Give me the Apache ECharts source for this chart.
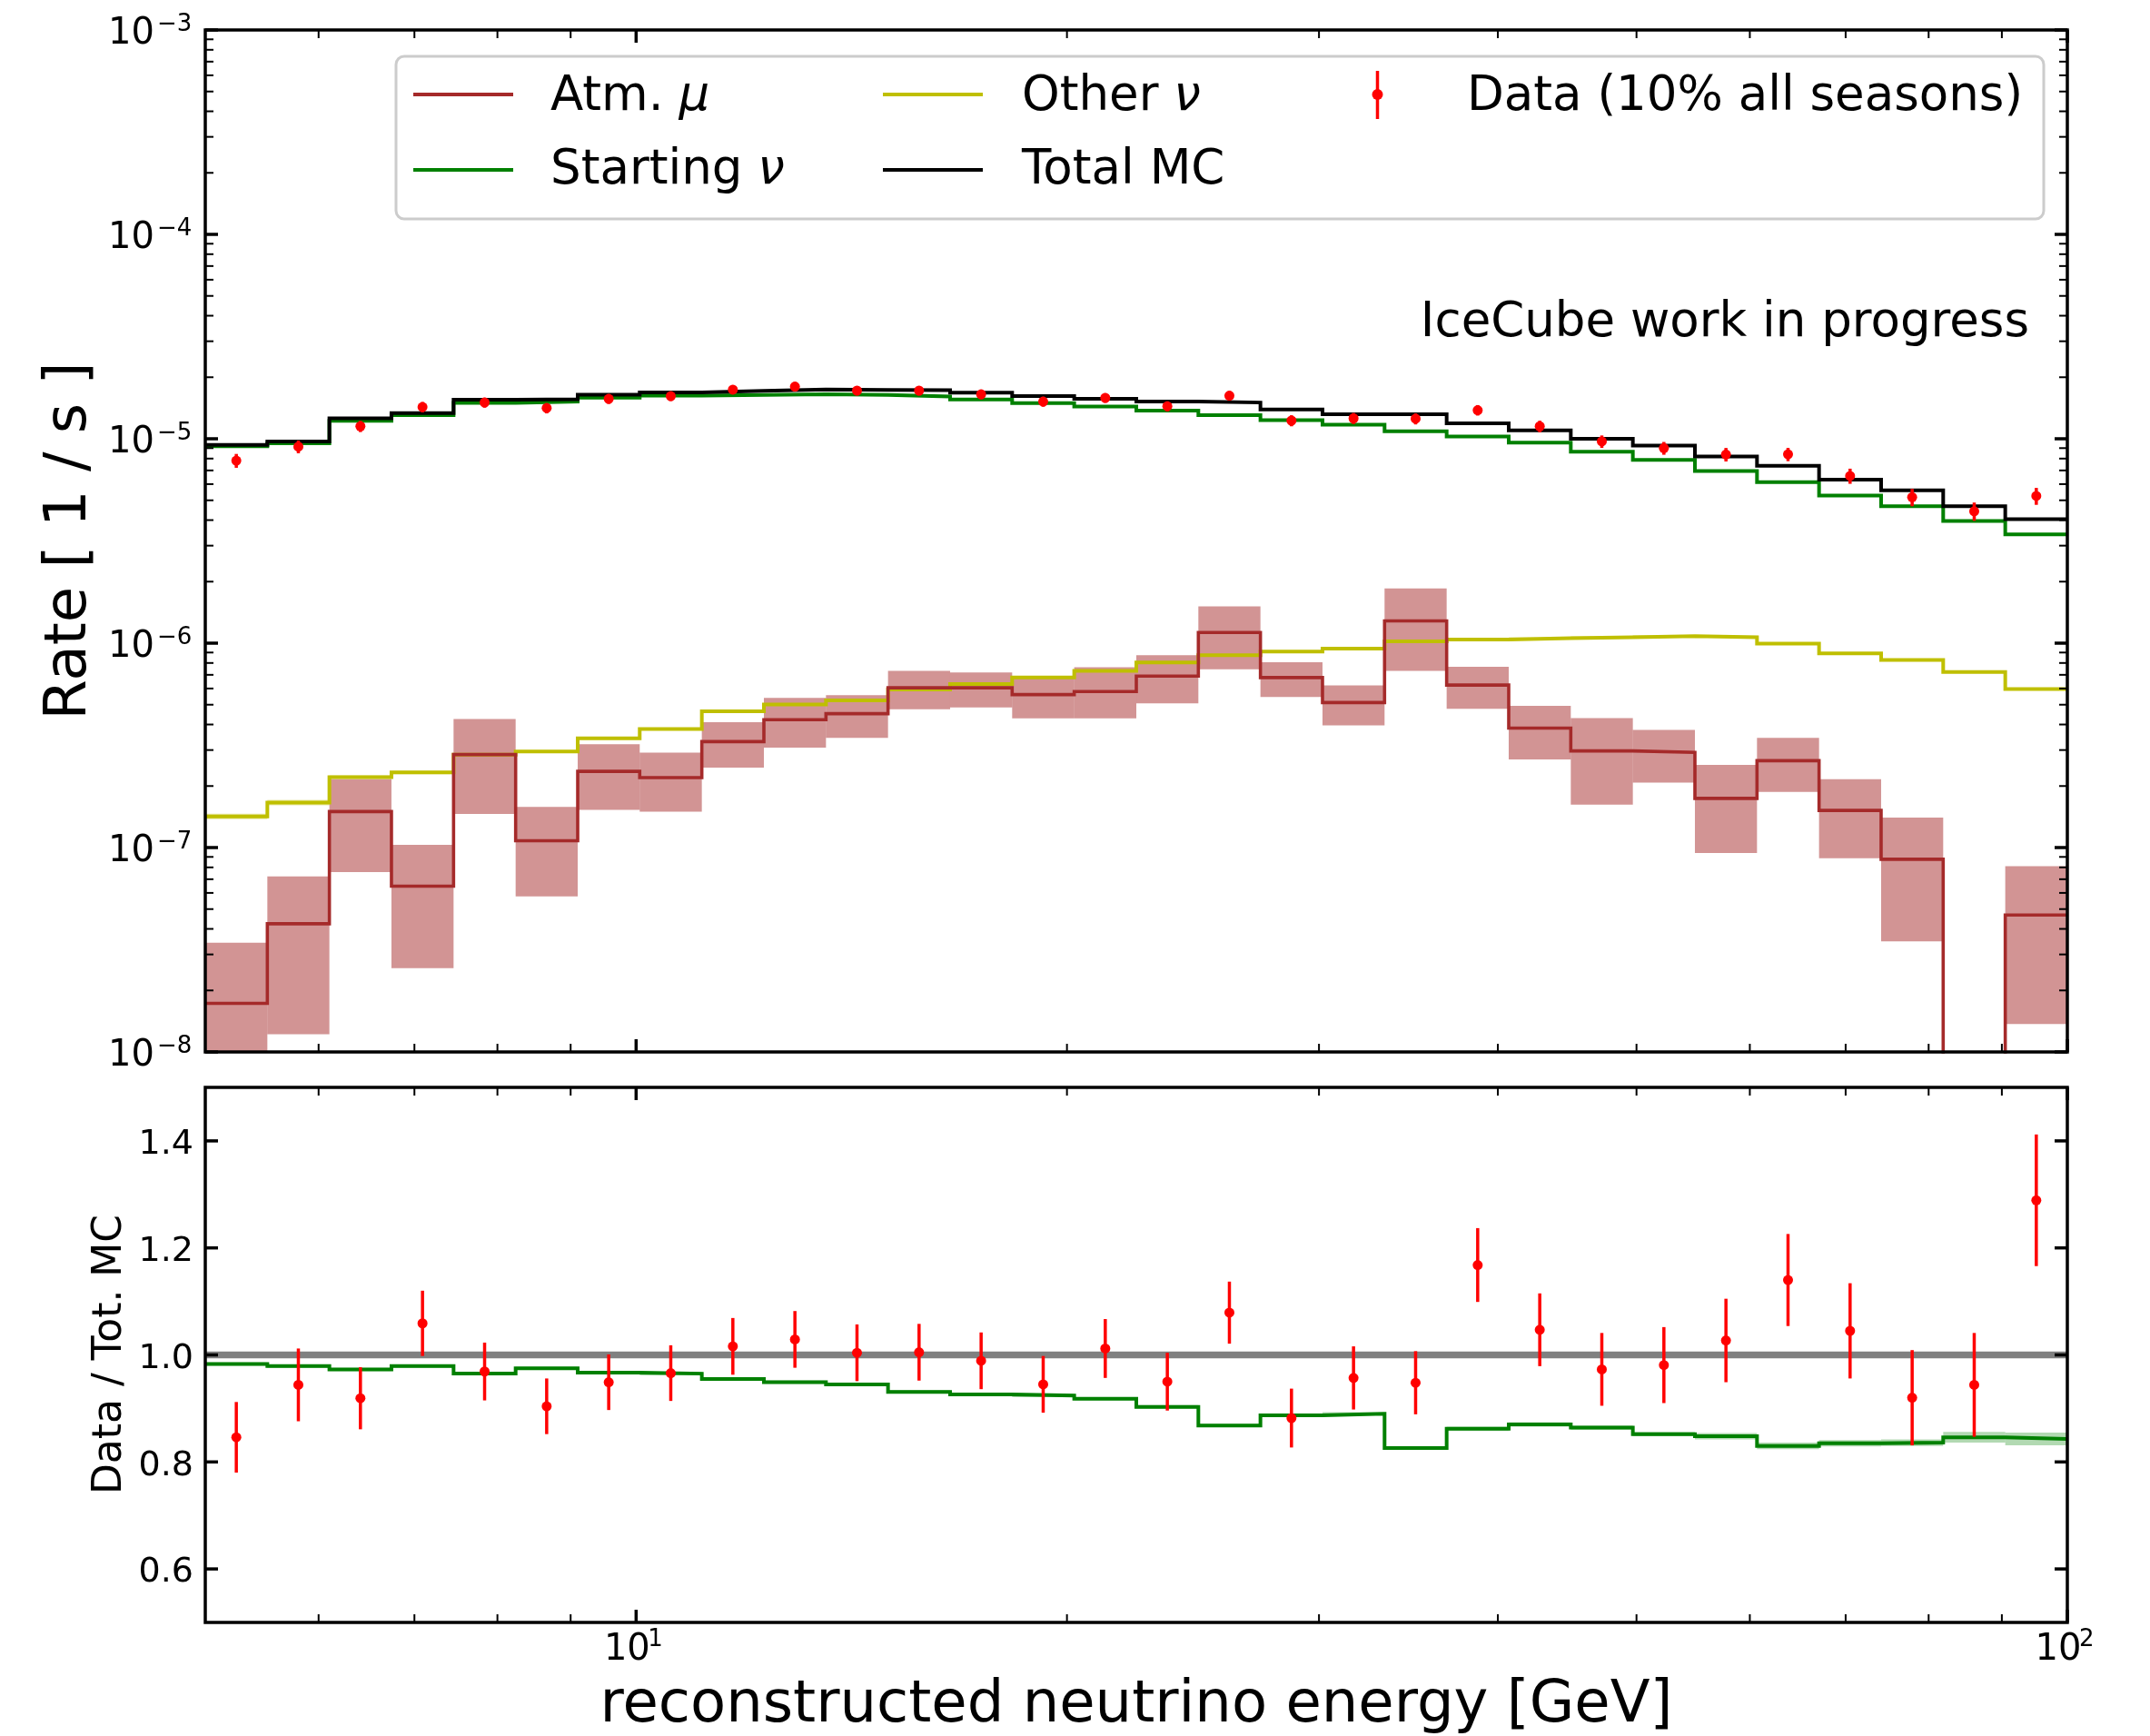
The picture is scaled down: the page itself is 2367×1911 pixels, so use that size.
<!DOCTYPE html>
<html><head><meta charset="utf-8">
<script src="https://cdn.jsdelivr.net/npm/echarts@6/dist/echarts.min.js"></script>
<style>html,body{margin:0;padding:0;background:#fff}#c{width:2367px;height:1911px}</style>
</head><body><div id="c"></div>
<script>
// ---------------- data ----------------
const binEdges = [5.000, 5.525, 6.105, 6.746, 7.455, 8.238, 9.103, 10.058, 11.115, 12.282, 13.572,
  14.997, 16.572, 18.312, 20.235, 22.361, 24.708, 27.303, 30.170, 33.338, 36.840,
  40.709, 44.984, 49.707, 54.927, 60.696, 67.069, 74.111, 81.894, 90.494, 100.000];

const totalMC = [9.34e-6, 9.69e-6, 1.259e-5, 1.334e-5, 1.553e-5, 1.56e-5, 1.644e-5, 1.687e-5, 1.714e-5, 1.741e-5,
  1.734e-5, 1.73e-5, 1.68e-5, 1.617e-5, 1.567e-5, 1.52e-5, 1.504e-5, 1.39e-5, 1.318e-5, 1.318e-5,
  1.19e-5, 1.1e-5, 1.0e-5, 9.25e-6, 8.2e-6, 7.38e-6, 6.31e-6, 5.6e-6, 4.68e-6, 4.04e-6];

const startingNu = [9.18e-6, 9.49e-6, 1.225e-5, 1.306e-5, 1.499e-5, 1.521e-5, 1.59e-5, 1.628e-5, 1.637e-5, 1.652e-5,
  1.639e-5, 1.611e-5, 1.556e-5, 1.494e-5, 1.438e-5, 1.373e-5, 1.305e-5, 1.233e-5, 1.173e-5, 1.089e-5,
  1.026e-5, 9.57e-6, 8.64e-6, 7.88e-6, 6.95e-6, 6.13e-6, 5.27e-6, 4.68e-6, 3.96e-6, 3.41e-6];

const otherNu = [1.42e-7, 1.66e-7, 2.21e-7, 2.33e-7, 2.85e-7, 2.95e-7, 3.42e-7, 3.8e-7, 4.64e-7, 5.01e-7,
  5.25e-7, 5.93e-7, 6.31e-7, 6.79e-7, 7.31e-7, 8.04e-7, 8.73e-7, 9.1e-7, 9.4e-7, 1.02e-6,
  1.042e-6, 1.059e-6, 1.07e-6, 1.082e-6, 1.07e-6, 9.96e-7, 8.91e-7, 8.28e-7, 7.23e-7, 5.96e-7];
const otherNuRelErr = [0.03, 0.03, 0.02, 0.02, 0.012, 0.012, 0.01, 0.01, 0.01, 0.01,
  0.01, 0.01, 0.01, 0.01, 0.01, 0.01, 0.01, 0.01, 0.01, 0.01,
  0.01, 0.01, 0.01, 0.01, 0.01, 0.01, 0.01, 0.01, 0.01, 0.01];

// null = zero rate in that bin
const atmMu = [1.73e-8, 4.24e-8, 1.5e-7, 6.47e-8, 2.85e-7, 1.08e-7, 2.36e-7, 2.2e-7, 3.3e-7, 4.22e-7,
  4.52e-7, 6.05e-7, 6.05e-7, 5.6e-7, 5.8e-7, 6.9e-7, 1.127e-6, 6.79e-7, 5.12e-7, 1.285e-6,
  6.24e-7, 3.84e-7, 2.97e-7, 2.92e-7, 1.74e-7, 2.66e-7, 1.52e-7, 8.77e-8, null, 4.68e-8];
const atmMuLo = [8e-9, 1.22e-8, 7.58e-8, 2.57e-8, 1.46e-7, 5.77e-8, 1.53e-7, 1.5e-7, 2.46e-7, 3.08e-7,
  3.44e-7, 4.75e-7, 4.85e-7, 4.29e-7, 4.29e-7, 5.07e-7, 7.46e-7, 5.45e-7, 3.96e-7, 7.31e-7,
  4.78e-7, 2.7e-7, 1.62e-7, 2.08e-7, 9.4e-8, 1.87e-7, 8.87e-8, 3.48e-8, null, 1.37e-8];
const atmMuHi = [3.42e-8, 7.23e-8, 2.16e-7, 1.03e-7, 4.26e-7, 1.58e-7, 3.2e-7, 2.91e-7, 4.11e-7, 5.4e-7,
  5.56e-7, 7.31e-7, 7.19e-7, 6.9e-7, 7.62e-7, 8.73e-7, 1.513e-6, 8.07e-7, 6.21e-7, 1.854e-6,
  7.66e-7, 4.93e-7, 4.3e-7, 3.76e-7, 2.54e-7, 3.44e-7, 2.16e-7, 1.4e-7, null, 8.1e-8];

const dataRate = [7.82e-6, 9.15e-6, 1.151e-5, 1.43e-5, 1.504e-5, 1.413e-5, 1.567e-5, 1.617e-5, 1.74e-5, 1.8e-5,
  1.72e-5, 1.72e-5, 1.65e-5, 1.52e-5, 1.585e-5, 1.442e-5, 1.625e-5, 1.227e-5, 1.259e-5, 1.253e-5,
  1.38e-5, 1.151e-5, 9.7e-6, 9.0e-6, 8.38e-6, 8.4e-6, 6.58e-6, 5.18e-6, 4.42e-6, 5.25e-6];
const dataRelErr = [0.078, 0.072, 0.063, 0.058, 0.056, 0.058, 0.055, 0.054, 0.052, 0.052,
  0.053, 0.053, 0.054, 0.056, 0.054, 0.057, 0.054, 0.062, 0.062, 0.062,
  0.059, 0.065, 0.07, 0.072, 0.076, 0.075, 0.085, 0.097, 0.103, 0.095];

const ratioData = [0.846, 0.944, 0.919, 1.059, 0.969, 0.904, 0.949, 0.966, 1.016, 1.029,
  1.004, 1.005, 0.989, 0.945, 1.012, 0.95, 1.079, 0.882, 0.957, 0.948,
  1.168, 1.047, 0.973, 0.981, 1.027, 1.14, 1.045, 0.92, 0.944, 1.289];
const ratioDataErr = [0.066, 0.068, 0.058, 0.061, 0.054, 0.052, 0.052, 0.052, 0.053, 0.053,
  0.053, 0.053, 0.053, 0.053, 0.055, 0.054, 0.058, 0.055, 0.059, 0.059,
  0.069, 0.068, 0.068, 0.071, 0.078, 0.086, 0.089, 0.089, 0.097, 0.123];

const ratioStarting = [0.983, 0.979, 0.973, 0.979, 0.965, 0.975, 0.967, 0.965, 0.955, 0.949,
  0.945, 0.931, 0.926, 0.924, 0.918, 0.903, 0.868, 0.887, 0.89, 0.826,
  0.862, 0.87, 0.864, 0.852, 0.848, 0.83, 0.835, 0.836, 0.846, 0.843];
const ratioStartingErr = [0.003, 0.003, 0.003, 0.003, 0.003, 0.003, 0.003, 0.003, 0.003, 0.003,
  0.003, 0.003, 0.003, 0.003, 0.003, 0.003, 0.003, 0.003, 0.003, 0.003,
  0.004, 0.004, 0.004, 0.004, 0.006, 0.006, 0.006, 0.006, 0.01, 0.012];

// axis ticks
const energyMajorTicks = [10, 100];
const energyTickExps = ['1', '2'];
const energyMinorTicks = [6, 7, 8, 9, 20, 30, 40, 50, 60, 70, 80, 90];
const rateDecades = [-8, -7, -6, -5, -4, -3];
const rateTickExps = ['\u22128', '\u22127', '\u22126', '\u22125', '\u22124', '\u22123'];
const rateMinorMantissas = [2, 3, 4, 5, 6, 7, 8, 9];
const ratioTicks = [0.6, 0.8, 1.0, 1.2, 1.4];
const ratioTickLabels = ['0.6', '0.8', '1.0', '1.2', '1.4'];

// ---------------- building ----------------
const FF = "'DejaVu Sans'";
const C_ATM = '#a52a2a', C_START = '#008000', C_OTHER = '#bfbf00', C_TOT = '#000000', C_DATA = '#ff0000';
const ZERO_ON_LOG = 1e-14; // a zero rate: drawn off the bottom of the log axis

const nb = totalMC.length;
const binCenters = [];
for (let i = 0; i < nb; i++) binCenters.push(Math.sqrt(binEdges[i] * binEdges[i + 1]));

function stepData(vals) {
  const d = [];
  for (let i = 0; i < nb; i++) d.push([binEdges[i], vals[i] == null ? ZERO_ON_LOG : vals[i]]);
  d.push([binEdges[nb], vals[nb - 1] == null ? ZERO_ON_LOG : vals[nb - 1]]);
  return d;
}
function stepLine(name, vals, color, xi, width) {
  return { name, type: 'line', xAxisIndex: xi, yAxisIndex: xi, data: stepData(vals), step: 'end',
    symbol: 'none', showSymbol: false, clip: true, silent: true,
    lineStyle: { color, width, cap: 'butt', join: 'miter' }, z: 3 };
}
function bandSeries(lo, hi, color, xi) {
  const d = [];
  for (let i = 0; i < nb; i++) if (lo[i] != null && hi[i] != null) d.push([binEdges[i], binEdges[i + 1], lo[i], hi[i]]);
  return { type: 'custom', xAxisIndex: xi, yAxisIndex: xi, data: d, clip: true, silent: true, z: 2,
    encode: { x: [0, 1], y: [2, 3] },
    renderItem(params, api) {
      const a = api.coord([api.value(0), api.value(3)]);
      const b = api.coord([api.value(1), api.value(2)]);
      return { type: 'rect', shape: { x: a[0], y: a[1], width: b[0] - a[0], height: b[1] - a[1] }, style: { fill: color } };
    } };
}
function errSeries(centers, vals, lo, hi, xi) {
  const d = [];
  for (let i = 0; i < nb; i++) d.push([centers[i], vals[i], lo[i], hi[i]]);
  return { type: 'custom', xAxisIndex: xi, yAxisIndex: xi, data: d, silent: true, z: 5,
    encode: { x: 0, y: [1, 2, 3] },
    renderItem(params, api) {
      const p = api.coord([api.value(0), api.value(1)]);
      const pl = api.coord([api.value(0), api.value(2)]);
      const ph = api.coord([api.value(0), api.value(3)]);
      return { type: 'group', children: [
        { type: 'line', shape: { x1: p[0], y1: pl[1], x2: p[0], y2: ph[1] }, style: { stroke: C_DATA, lineWidth: 3.5 } },
        { type: 'circle', shape: { cx: p[0], cy: p[1], r: 5.5 }, style: { fill: C_DATA } }
      ] };
    } };
}

const otherLo = [], otherHi = [], dataLo = [], dataHi = [], rdLo = [], rdHi = [], rsLo = [], rsHi = [];
for (let i = 0; i < nb; i++) {
  otherLo.push(otherNu[i] * (1 - otherNuRelErr[i])); otherHi.push(otherNu[i] * (1 + otherNuRelErr[i]));
  dataLo.push(dataRate[i] * (1 - dataRelErr[i])); dataHi.push(dataRate[i] * (1 + dataRelErr[i]));
  rdLo.push(ratioData[i] - ratioDataErr[i]); rdHi.push(ratioData[i] + ratioDataErr[i]);
  rsLo.push(ratioStarting[i] - ratioStartingErr[i]); rsHi.push(ratioStarting[i] + ratioStartingErr[i]);
}

// tick lists
const topTicks = [], botTicks = [];
energyMajorTicks.forEach((v, k) => {
  topTicks.push({ ax: 'x', v, major: true });
  botTicks.push({ ax: 'x', v, major: true, exp: energyTickExps[k] });
});
energyMinorTicks.forEach(v => { topTicks.push({ ax: 'x', v, major: false }); botTicks.push({ ax: 'x', v, major: false }); });
rateDecades.forEach((e, k) => {
  topTicks.push({ ax: 'y', v: Math.pow(10, e), major: true, exp: rateTickExps[k] });
  if (e < -3) rateMinorMantissas.forEach(m => topTicks.push({ ax: 'y', v: m * Math.pow(10, e), major: false }));
});
ratioTicks.forEach((v, k) => botTicks.push({ ax: 'y', v, major: true, lab: ratioTickLabels[k] }));

function textEl(x, y, text, size, align, valign) {
  return { type: 'text', x: 0, y: 0, style: { x, y, text, font: size + 'px ' + FF, fill: '#000',
    align, textAlign: align, verticalAlign: valign, textVerticalAlign: valign } };
}
function tickSeries(ticks, xi, xRef, yRef) {
  return { type: 'custom', xAxisIndex: xi, yAxisIndex: xi, silent: true, z: 10,
    data: ticks.map((t, i) => [xRef, yRef, i]),
    encode: { x: 0, y: 1 },
    renderItem(params, api) {
      const t = ticks[params.dataIndex];
      const cs = params.coordSys;
      const ch = [];
      const len = t.major ? 14 : 9, w = t.major ? 3.5 : 2;
      const bottom = cs.y + cs.height, right = cs.x + cs.width;
      if (params.dataIndex === 0) {
        ch.push({ type: 'rect', shape: { x: cs.x, y: cs.y, width: cs.width, height: cs.height },
          style: { fill: 'none', stroke: '#000', lineWidth: 3.5 } });
      }
      if (t.ax === 'x') {
        const px = api.coord([t.v, yRef])[0];
        ch.push({ type: 'line', shape: { x1: px, y1: bottom, x2: px, y2: bottom - len }, style: { stroke: '#000', lineWidth: w } });
        ch.push({ type: 'line', shape: { x1: px, y1: cs.y, x2: px, y2: cs.y + len }, style: { stroke: '#000', lineWidth: w } });
        if (t.exp) {
          ch.push(textEl(px - 10, bottom + 31, '10', 40, 'center', 'middle'));
          ch.push(textEl(px + 13, bottom + 19, t.exp, 26, 'left', 'middle'));
        }
      } else {
        const py = api.coord([xRef, t.v])[1];
        ch.push({ type: 'line', shape: { x1: cs.x, y1: py, x2: cs.x + len, y2: py }, style: { stroke: '#000', lineWidth: w } });
        ch.push({ type: 'line', shape: { x1: right, y1: py, x2: right - len, y2: py }, style: { stroke: '#000', lineWidth: w } });
        if (t.exp) {
          ch.push(textEl(cs.x - 56, py + 5, '10', 40, 'right', 'middle'));
          ch.push(textEl(cs.x - 53, py - 6, t.exp, 26, 'left', 'middle'));
        }
        if (t.lab) ch.push(textEl(cs.x - 13, py + 4.5, t.lab, 38, 'right', 'middle'));
      }
      return { type: 'group', children: ch };
    } };
}

const hidden = { axisLine: { show: false }, axisTick: { show: false }, axisLabel: { show: false }, splitLine: { show: false } };

const option = {
  animation: false,
  backgroundColor: '#ffffff',
  textStyle: { fontFamily: FF },
  grid: [
    { left: 226, top: 33, width: 2050, height: 1125, show: false, containLabel: false, outerBoundsMode: 'none' },
    { left: 226, top: 1197, width: 2050, height: 589, show: false, containLabel: false, outerBoundsMode: 'none' }
  ],
  xAxis: [
    Object.assign({ type: 'log', logBase: 10, min: 5, max: 100, gridIndex: 0 }, hidden),
    Object.assign({ type: 'log', logBase: 10, min: 5, max: 100, gridIndex: 1 }, hidden)
  ],
  yAxis: [
    Object.assign({ type: 'log', logBase: 10, min: 1e-8, max: 1e-3, gridIndex: 0 }, hidden),
    Object.assign({ type: 'value', min: 0.5, max: 1.5, gridIndex: 1 }, hidden)
  ],
  series: [
    bandSeries(atmMuLo, atmMuHi, 'rgba(165,42,42,0.5)', 0),
    bandSeries(otherLo, otherHi, 'rgba(191,191,0,0.35)', 0),
    stepLine('Other \u03bd', otherNu, C_OTHER, 0, 4),
    stepLine('Atm. \u03bc', atmMu, C_ATM, 0, 3.6),
    stepLine('Starting \u03bd', startingNu, C_START, 0, 4),
    stepLine('Total MC', totalMC, C_TOT, 0, 4),
    errSeries(binCenters, dataRate, dataLo, dataHi, 0),
    { type: 'line', xAxisIndex: 1, yAxisIndex: 1, data: [[5, 1], [100, 1]], symbol: 'none', silent: true,
      lineStyle: { color: '#808080', width: 7.5, cap: 'butt' }, z: 2 },
    bandSeries(rsLo, rsHi, 'rgba(0,128,0,0.3)', 1),
    stepLine('Starting \u03bd / Total MC', ratioStarting, C_START, 1, 4),
    errSeries(binCenters, ratioData, rdLo, rdHi, 1),
    tickSeries(topTicks, 0, 5, 1e-8),
    tickSeries(botTicks, 1, 5, 0.5)
  ],
  graphic: [
    // axis titles
    { type: 'text', x: 77, y: 595.5, rotation: Math.PI / 2,
      style: { text: 'Rate [ 1 / s ]', font: '64px ' + FF, fill: '#000', align: 'center', textAlign: 'center', verticalAlign: 'middle', textVerticalAlign: 'middle' } },
    { type: 'text', x: 122, y: 1491, rotation: Math.PI / 2,
      style: { text: 'Data / Tot. MC', font: '44px ' + FF, fill: '#000', align: 'center', textAlign: 'center', verticalAlign: 'middle', textVerticalAlign: 'middle' } },
    { type: 'text', x: 1251, y: 1878,
      style: { text: 'reconstructed neutrino energy [GeV]', font: '64px ' + FF, fill: '#000', align: 'center', textAlign: 'center', verticalAlign: 'middle', textVerticalAlign: 'middle' } },
    { type: 'text', x: 2234, y: 356,
      style: { text: 'IceCube work in progress', font: '53px ' + FF, fill: '#000', align: 'right', textAlign: 'right', verticalAlign: 'middle', textVerticalAlign: 'middle' } },
    // legend
    { type: 'rect', shape: { x: 436, y: 62, width: 1814, height: 179, r: 9 },
      style: { fill: 'rgba(255,255,255,0.8)', stroke: '#cccccc', lineWidth: 3 }, z: 20 },
    { type: 'line', shape: { x1: 455, y1: 104, x2: 565, y2: 104 }, style: { stroke: C_ATM, lineWidth: 4 }, z: 21 },
    { type: 'line', shape: { x1: 455, y1: 187, x2: 565, y2: 187 }, style: { stroke: C_START, lineWidth: 4 }, z: 21 },
    { type: 'line', shape: { x1: 972, y1: 104, x2: 1082, y2: 104 }, style: { stroke: C_OTHER, lineWidth: 4 }, z: 21 },
    { type: 'line', shape: { x1: 972, y1: 187, x2: 1082, y2: 187 }, style: { stroke: C_TOT, lineWidth: 4 }, z: 21 },
    { type: 'line', shape: { x1: 1516.5, y1: 78, x2: 1516.5, y2: 131 }, style: { stroke: C_DATA, lineWidth: 3.5 }, z: 21 },
    { type: 'circle', shape: { cx: 1516.5, cy: 104, r: 6 }, style: { fill: C_DATA }, z: 21 },
    { type: 'text', x: 606, y: 107, z: 21,
      style: { text: 'Atm. {i|\u03bc}', font: '53px ' + FF, fill: '#000', verticalAlign: 'middle', textVerticalAlign: 'middle',
        rich: { i: { fontStyle: 'italic', fontSize: 53, fontFamily: FF } } } },
    { type: 'text', x: 606, y: 188, z: 21,
      style: { text: 'Starting {i|\u03bd}', font: '53px ' + FF, fill: '#000', verticalAlign: 'middle', textVerticalAlign: 'middle',
        rich: { i: { fontStyle: 'italic', fontSize: 53, fontFamily: FF } } } },
    { type: 'text', x: 1125, y: 107, z: 21,
      style: { text: 'Other {i|\u03bd}', font: '53px ' + FF, fill: '#000', verticalAlign: 'middle', textVerticalAlign: 'middle',
        rich: { i: { fontStyle: 'italic', fontSize: 53, fontFamily: FF } } } },
    { type: 'text', x: 1125, y: 188, z: 21,
      style: { text: 'Total MC', font: '53px ' + FF, fill: '#000', verticalAlign: 'middle', textVerticalAlign: 'middle' } },
    { type: 'text', x: 1615, y: 107, z: 21,
      style: { text: 'Data (10% all seasons)', font: '53px ' + FF, fill: '#000', verticalAlign: 'middle', textVerticalAlign: 'middle' } }
  ]
};

const chart = echarts.init(document.getElementById('c'), null, { renderer: 'canvas', width: 2367, height: 1911 });
chart.setOption(option);
</script>
</body></html>
